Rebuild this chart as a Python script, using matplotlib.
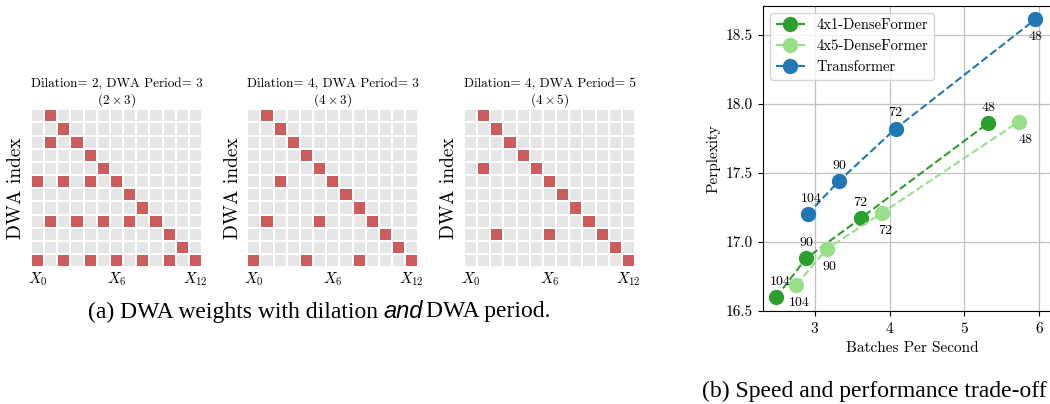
import numpy as np
import matplotlib
matplotlib.use("Agg")
import matplotlib.pyplot as plt
from matplotlib.colors import ListedColormap

# ------------------------- FONTES -------------------------
plt.rcParams['font.family'] = 'serif'
plt.rcParams['font.serif'] = ['cmr10']
plt.rcParams['mathtext.fontset'] = 'cm'
plt.rcParams['axes.formatter.use_mathtext'] = True
plt.rcParams['axes.unicode_minus'] = False

# ------------------------- DADOS -------------------------
# (a) colunas vermelhas por linha (de cima para baixo), 12 linhas x 13 colunas
n_rows = 12
n_cols = 13
red_cells_d2_p3 = [[1], [2], [1, 3], [4], [5], [0, 2, 4, 6], [7], [8],
                   [1, 3, 5, 7, 9], [10], [11], [0, 2, 4, 6, 8, 10, 12]]
red_cells_d4_p3 = [[1], [2], [3], [4], [5], [2, 6], [7], [8],
                   [1, 5, 9], [10], [11], [0, 4, 8, 12]]
red_cells_d4_p5 = [[1], [2], [3], [4], [1, 5], [6], [7], [8],
                   [9], [2, 6, 10], [11], [12]]
panel_titles = ["Dilation= 2, DWA Period= 3\n$(2\\times 3)$",
                "Dilation= 4, DWA Period= 3\n$(4\\times 3)$",
                "Dilation= 4, DWA Period= 5\n$(4\\times 5)$"]
x_tick_cols = [0, 6, 12]
x_tick_labels = ["$X_0$", "$X_6$", "$X_{12}$"]

# (b) velocidade x perplexidade
labels_4x1 = [104, 90, 72, 48]
speed_4x1 = [2.48, 2.88, 3.61, 5.32]
ppl_4x1 = [16.60, 16.88, 17.17, 17.86]

labels_4x5 = [104, 90, 72, 48]
speed_4x5 = [2.75, 3.16, 3.90, 5.73]
ppl_4x5 = [16.69, 16.95, 17.21, 17.87]

labels_tr = [104, 90, 72, 48]
speed_tr = [2.90, 3.32, 4.08, 5.95]
ppl_tr = [17.20, 17.44, 17.82, 18.61]

GRAY = "#e5e5e5"
RED = "#cd5c5c"

fig = plt.figure(figsize=(10.5, 4.04), dpi=100)

# ------------------------- (a) MAPAS -------------------------
panel_lefts = [31 / 1050, 247.3 / 1050, 464 / 1050]
panel_w = 171 / 1050
panel_h = 158 / 404
panel_b = (404 - 267.3) / 404

for left, cells, title in zip(panel_lefts,
                              [red_cells_d2_p3, red_cells_d4_p3, red_cells_d4_p5],
                              panel_titles):
    mask = np.zeros((n_rows, n_cols))
    for r, cols in enumerate(cells):
        mask[r, cols] = 1
    ax = fig.add_axes([left, panel_b, panel_w, panel_h])
    ax.pcolormesh(mask, cmap=ListedColormap([GRAY, RED]), vmin=0, vmax=1,
                  edgecolors="white", linewidth=1.3)
    ax.set_xlim(0, n_cols)
    ax.set_ylim(n_rows, 0)
    for s in ax.spines.values():
        s.set_visible(False)
    ax.set_yticks([])
    ax.set_xticks([c + 0.5 for c in x_tick_cols])
    ax.set_xticklabels(x_tick_labels, fontsize=11)
    ax.tick_params(axis="x", length=0, pad=2)
    ax.set_ylabel("DWA index", fontsize=14, labelpad=4)
    ax.set_title(title, fontsize=9.5, linespacing=1.05, pad=3)

# legenda (a) montada em partes para o "and" em itálico sem serifa
cap_y = 1 - 312 / 404
t1 = fig.text(88 / 1050, cap_y, "(a) DWA weights with dilation ",
              fontsize=17, family="Liberation Serif", va="center")
fig.canvas.draw()
bb = t1.get_window_extent()
t2 = fig.text(bb.x1 / 1050, cap_y, "and",
              fontsize=17, family="Liberation Sans", style="italic", va="center")
bb2 = t2.get_window_extent()
fig.text((bb2.x1 + 3) / 1050, cap_y, "DWA period.",
         fontsize=17, family="Liberation Serif", va="center")

# ------------------------- (b) CURVAS -------------------------
axb = fig.add_axes([762.7 / 1050, (404 - 311) / 404, 300 / 1050, 305.5 / 404])
axb.plot(speed_4x1, ppl_4x1, "--o", color="#2ca02c", markersize=10, lw=1.5,
         label="4x1-DenseFormer")
axb.plot(speed_4x5, ppl_4x5, "--o", color="#98df8a", markersize=10, lw=1.5,
         label="4x5-DenseFormer")
axb.plot(speed_tr, ppl_tr, "--o", color="#1f77b4", markersize=10, lw=1.5,
         label="Transformer")

for i, (x, y, n) in enumerate(zip(speed_4x1, ppl_4x1, labels_4x1)):
    dx = 3 if i == 0 else 0
    axb.annotate(str(n), (x, y), xytext=(dx, 11), textcoords="offset points",
                 ha="center", va="center", fontsize=10)
for i, (x, y, n) in enumerate(zip(speed_4x5, ppl_4x5, labels_4x5)):
    dx = 5 if i == 3 else 2
    axb.annotate(str(n), (x, y), xytext=(dx, -13), textcoords="offset points",
                 ha="center", va="center", fontsize=10)
for i, (x, y, n) in enumerate(zip(speed_tr, ppl_tr, labels_tr)):
    if i == 3:
        off = (0, -13)
    else:
        off = (3 if i == 0 else 0, 11)
    axb.annotate(str(n), (x, y), xytext=off, textcoords="offset points",
                 ha="center", va="center", fontsize=10)

axb.set_xlim(2.3, 6.316)
axb.set_ylim(16.5, 18.71)
axb.set_xticks([3, 4, 5, 6])
axb.set_yticks([16.5, 17.0, 17.5, 18.0, 18.5])
axb.set_yticklabels(["16.5", "17.0", "17.5", "18.0", "18.5"])
axb.tick_params(labelsize=11)
axb.grid(True, color="#c0c0c0", lw=0.9)
axb.set_axisbelow(True)
axb.set_xlabel("Batches Per Second", fontsize=11)
axb.set_ylabel("Perplexity", fontsize=11)
axb.legend(loc="upper left", fontsize=10.5, framealpha=0.8)

fig.text(702 / 1050, 1 - 391 / 404, "(b) Speed and performance trade-off",
         fontsize=17, family="Liberation Serif", va="center")

fig.savefig("out.png", dpi=100)
